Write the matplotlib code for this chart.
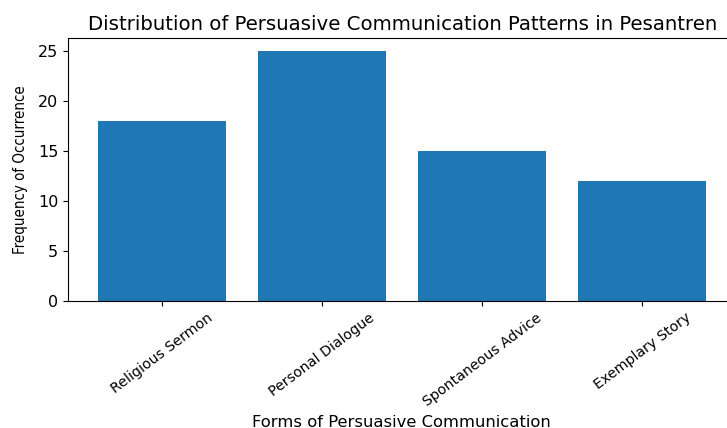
import matplotlib.pyplot as plt
import numpy as np

# forms of persuasive communication and how often each occurred
categories = ['Religious Sermon', 'Personal Dialogue', 'Spontaneous Advice', 'Exemplary Story']
frequencies = [18, 25, 15, 12]

fig = plt.figure(figsize=(7.27, 4.28), dpi=100)
# the reference is cropped on the right, so the axes run slightly past the figure edge
ax = fig.add_axes([0.0935, 0.2967, 0.92, 0.614])

x = np.arange(len(categories))
ax.bar(x, frequencies, color='#1f77b4')

ax.set_xticks(x)
# reference looks squashed vertically, so the 45 degree labels come out flatter
ax.set_xticklabels(categories, rotation=37)
ax.tick_params(axis='x', labelsize=10.2)
ax.tick_params(axis='y', labelsize=11.5)
ax.set_xlabel('Forms of Persuasive Communication', fontsize=11.8)
ax.xaxis.set_label_coords(0.498, -0.432)
ax.set_ylabel('Frequency of Occurrence', fontsize=10.8, fontstretch='condensed')
ax.yaxis.set_label_coords(-0.06, 0.5)
ax.set_title('Distribution of Persuasive Communication Patterns in Pesantren', fontsize=14.2)

fig.savefig('out.png', dpi=100)
plt.close(fig)
